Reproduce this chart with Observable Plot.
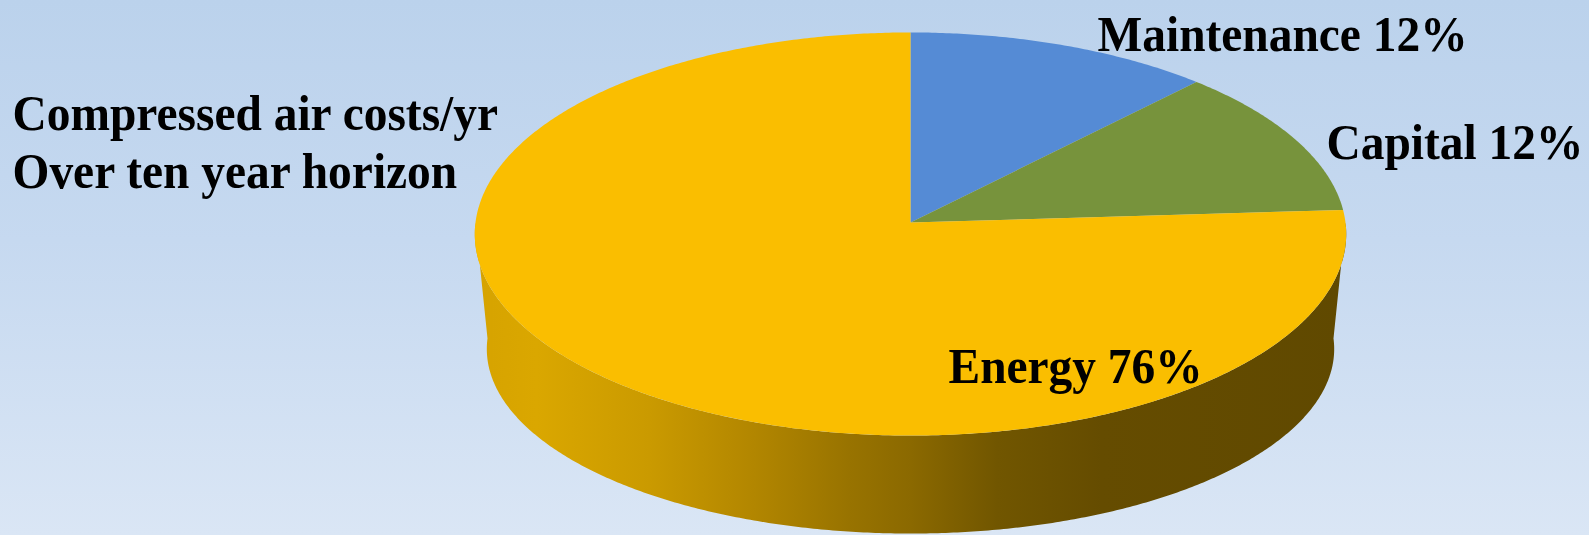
<!DOCTYPE html>
<html>
<head>
<meta charset="utf-8">
<script src="https://cdn.jsdelivr.net/npm/d3@7"></script>
<script src="https://cdn.jsdelivr.net/npm/@observablehq/plot@0.6"></script>
<style>
  html, body { margin: 0; padding: 0; }
  body { width: 1589px; height: 535px; overflow: hidden; background: #cbdcf0; }
</style>
</head>
<body>
<div id="chart"></div>
<script>
// ---- data ----
const categories = ["Maintenance", "Capital", "Energy"];
const shares = [12, 12, 76];
const titleLines = ["Compressed air costs/yr", "Over ten year horizon"];

// ---- styling / layout (not data) ----
const palette = ["#558BD5", "#77933C", "#FABE00"];
const W = 1589, H = 535;
const cx = 910, p = 0.0571;
const topFace = {cy: 222, rx: 435, ry: 200.9};
const botFace = {cy: 338, rx: 423, ry: 183.9};
const labelPos = [
  {x: 1097, y: 50},   // Maintenance
  {x: 1326, y: 158},  // Capital
  {x: 948, y: 382}    // Energy
];
const titlePos = {x: 12, y: 129, lineStep: 58};
const fontSize = 51, squeeze = 0.93;

// perspective projection of a rim point at angle theta (deg, clockwise from 12 o'clock)
function proj(theta, face) {
  const t = theta * Math.PI / 180;
  const X = Math.sin(t), Z = -Math.cos(t);
  const f = 1 / (1 - p * Z);
  return {x: cx + face.rx * X * f, y: face.cy + face.ry * Z * f};
}
function arc(a0, a1, face, step = 0.5) {
  const pts = [];
  const n = Math.max(2, Math.ceil(Math.abs(a1 - a0) / step));
  for (let i = 0; i <= n; i++) pts.push(proj(a0 + (a1 - a0) * i / n, face));
  return pts;
}

// slices from shares
const total = d3.sum(shares);
let acc = 0;
const slices = categories.map((c, i) => {
  const a0 = acc / total * 360;
  acc += shares[i];
  const a1 = acc / total * 360;
  return {name: c, share: shares[i], a0, a1, color: palette[i]};
});

// side wall (front half of the cylinder, all of it within the Energy slice)
const sidePoly = [...arc(90, 270, topFace), ...arc(270, 90, botFace)];

const topPolys = slices.map(s => [{x: cx, y: topFace.cy}, ...arc(s.a0, s.a1, topFace), {x: cx, y: topFace.cy}]);

const labels = slices.map((s, i) => ({text: `${s.name} ${s.share}%`, ...labelPos[i]}));
const titles = titleLines.map((t, i) => ({text: t, x: titlePos.x, y: titlePos.y + i * titlePos.lineStep}));

const plot = Plot.plot({
  width: W, height: H,
  margin: 0,
  x: {domain: [0, W], range: [0, W], axis: null},
  y: {domain: [0, H], range: [0, H], axis: null},
  style: {background: "linear-gradient(to bottom, #BBD2EC 0%, #C6D9F0 45%, #DAE6F5 100%)"},
  marks: [
    Plot.line(sidePoly, {x: "x", y: "y", fill: "url(#sideGrad)", stroke: "none", curve: "linear"}),
    ...topPolys.map((poly, i) => Plot.line(poly, {x: "x", y: "y", fill: slices[i].color, stroke: "none", curve: "linear"})),
    Plot.text(titles, {x: "x", y: "y", text: "text", textAnchor: "start", lineAnchor: "bottom",
      fontSize, fontWeight: "bold", fontFamily: "'Liberation Serif', 'Times New Roman', serif", fill: "black"}),
    Plot.text(labels, {x: "x", y: "y", text: "text", textAnchor: "start", lineAnchor: "bottom",
      fontSize, fontWeight: "bold", fontFamily: "'Liberation Serif', 'Times New Roman', serif", fill: "black"})
  ]
});

// gradient definition for the side wall
const ns = "http://www.w3.org/2000/svg";
const defs = document.createElementNS(ns, "defs");
const lg = document.createElementNS(ns, "linearGradient");
lg.setAttribute("id", "sideGrad");
lg.setAttribute("gradientUnits", "userSpaceOnUse");
lg.setAttribute("x1", cx - topFace.rx); lg.setAttribute("y1", 0);
lg.setAttribute("x2", cx + topFace.rx); lg.setAttribute("y2", 0);
const stops = [[0, "#D6A300"], [0.07, "#DAA700"], [0.2, "#CA9A00"], [0.32, "#B28600"], [0.43, "#987300"],
               [0.5, "#8B6900"], [0.6, "#715600"], [0.72, "#654C00"], [1, "#604900"]];
for (const [o, c] of stops) {
  const s = document.createElementNS(ns, "stop");
  s.setAttribute("offset", o); s.setAttribute("stop-color", c);
  lg.appendChild(s);
}
defs.appendChild(lg);
plot.insertBefore(defs, plot.firstChild);

document.getElementById("chart").appendChild(plot);

// horizontally condense text like the reference (scale about each text's anchor)
plot.querySelectorAll("text").forEach(t => {
  const x = +(t.getAttribute("x") || 0), y = +(t.getAttribute("y") || 0);
  const tr = t.getAttribute("transform") || "";
  t.removeAttribute("x"); t.removeAttribute("y");
  t.setAttribute("transform", `${tr} translate(${x},${y}) scale(${squeeze},1)`);
});
</script>
</body>
</html>
